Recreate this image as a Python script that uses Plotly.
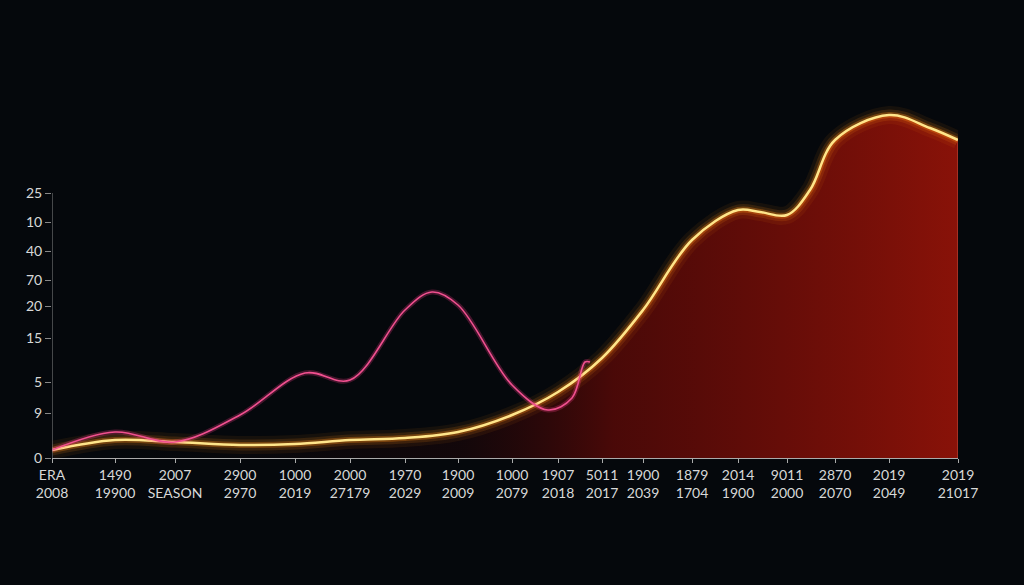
import plotly.graph_objects as go

# x positions (axis units) and tick labels
tick_x = [52, 115, 175, 240, 295, 350, 405, 458, 512, 558, 602, 643, 692, 738, 787, 835, 889, 958]
tick_top = ["ERA", "1490", "2007", "2900", "1000", "2000", "1970", "1900", "1000", "1907", "5011", "1900",
            "1879", "2014", "9011", "2870", "2019", "2019"]
tick_bot = ["2008", "19900", "SEASON", "2970", "2019", "27179", "2029", "2009", "2079", "2018", "2017", "2039",
            "1704", "1900", "2000", "2070", "2049", "21017"]

y_tick_vals = [265, 236, 207, 178, 152, 120, 76, 45, 0]
y_tick_text = ["25", "10", "40", "70", "20", "15", "5", "9", "0"]

gold_x = [52, 115, 175, 240, 295, 350, 405, 458, 512, 558, 602, 643, 692, 738, 760, 787, 810, 835, 889, 930, 958]
gold_y = [8, 18, 16, 13, 14, 18, 20, 26, 43, 66, 100, 148, 218, 248, 246, 243, 268, 318, 343, 330, 318]

pink_x = [52, 115, 175, 240, 305, 350, 405, 432, 458, 512, 548, 572, 585, 590]
pink_y = [8, 26, 16, 43, 85, 78, 148, 166, 153, 73, 48, 60, 96, 96]

fig = go.Figure()

fig.add_trace(go.Scatter(
    x=gold_x, y=gold_y, mode="lines", line=dict(width=0, shape="spline"),
    fill="tozeroy",
    fillgradient=dict(type="horizontal",
                      colorscale=[[0, "rgba(0,0,0,0)"], [0.45, "rgba(60,5,5,0.25)"],
                                  [0.62, "rgba(120,10,5,0.6)"], [1, "rgba(160,20,8,0.85)"]]),
    hoverinfo="skip", showlegend=False))

for w, a in [(18, 0.07), (11, 0.14), (6, 0.3)]:
    fig.add_trace(go.Scatter(x=gold_x, y=gold_y, mode="lines",
                             line=dict(color=f"rgba(255,140,20,{a})", width=w, shape="spline"),
                             hoverinfo="skip", showlegend=False))
fig.add_trace(go.Scatter(x=gold_x, y=gold_y, mode="lines",
                         line=dict(color="#ffe58a", width=2.5, shape="spline"), showlegend=False))

fig.add_trace(go.Scatter(x=pink_x, y=pink_y, mode="lines",
                         line=dict(color="rgba(255,60,140,0.25)", width=5, shape="spline"),
                         hoverinfo="skip", showlegend=False))
fig.add_trace(go.Scatter(x=pink_x, y=pink_y, mode="lines",
                         line=dict(color="#f0508f", width=1.6, shape="spline"), showlegend=False))

fig.update_layout(
    width=1024, height=585,
    margin=dict(l=52, r=66, t=40, b=127),
    paper_bgcolor="#05080c", plot_bgcolor="rgba(0,0,0,0)",
    font=dict(family="Lato, sans-serif", color="#d8d8d8", size=14),
    xaxis=dict(range=[52, 958], tickvals=tick_x,
               ticktext=[f"{a}<br>{b}" for a, b in zip(tick_top, tick_bot)],
               showgrid=False, zeroline=False, showline=True, linecolor="#aaaaaa",
               ticks="outside", ticklen=4, tickcolor="#aaaaaa", tickfont=dict(size=14)),
    yaxis=dict(range=[0, 418], tickvals=y_tick_vals, ticktext=y_tick_text,
               showgrid=False, zeroline=False, showline=False,
               ticks="outside", ticklen=6, tickcolor="#888888", tickfont=dict(size=14)),
)
fig.add_shape(type="line", xref="x", yref="y", x0=958, x1=958, y0=0, y1=318,
              line=dict(color="rgba(230,120,100,0.6)", width=1))
fig.add_shape(type="line", xref="x", yref="y", x0=52, x1=52, y0=0, y1=265,
              line=dict(color="#888888", width=1))

fig.write_html("out.html", config={"displayModeBar": False},
               post_script="document.body.style.margin='0';document.body.style.background='#05080c';")
